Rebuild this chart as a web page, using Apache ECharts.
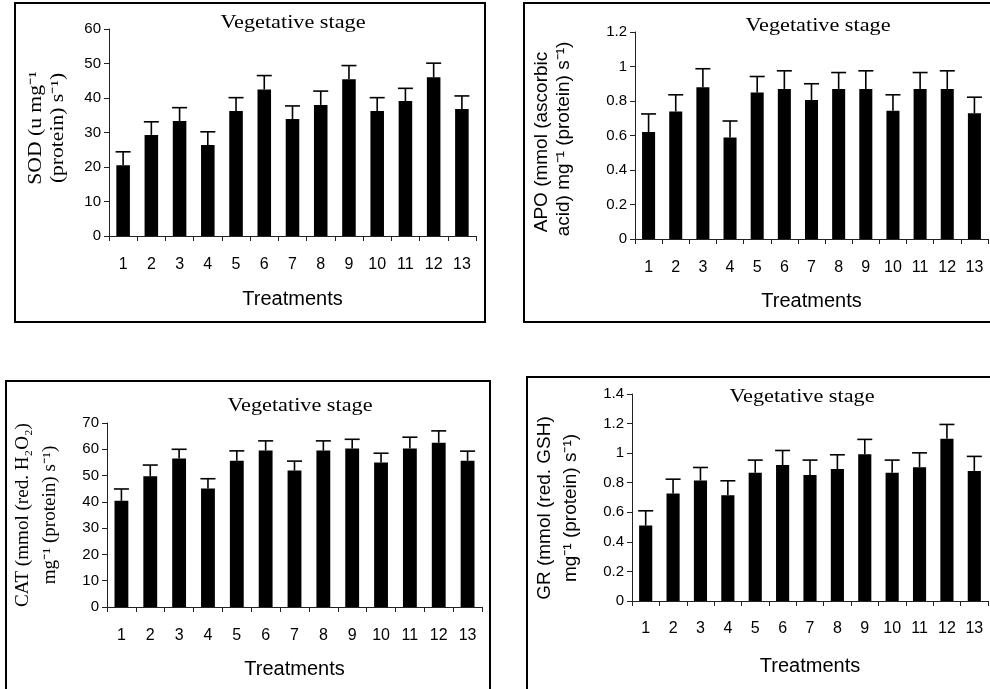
<!DOCTYPE html>
<html><head><meta charset="utf-8">
<script src="https://cdn.jsdelivr.net/npm/echarts@6/dist/echarts.min.js"></script>
<style>html,body{margin:0;padding:0;background:#fff}#c{width:990px;height:689px}</style>
</head><body><div id="c"></div>
<script>
var treatments = ['1','2','3','4','5','6','7','8','9','10','11','12','13'];
var sodMean = [20.5,29.3,33.3,26.4,36.2,42.5,33.9,38.0,45.4,36.2,39.1,46.0,36.8];
var sodErr  = [3.9,3.8,3.9,3.8,3.9,4.0,3.8,4.0,4.0,3.9,3.7,4.1,3.8];
var apoMean = [0.62,0.739,0.88,0.589,0.849,0.87,0.806,0.87,0.87,0.743,0.87,0.87,0.729];
var apoErr  = [0.105,0.097,0.107,0.095,0.093,0.105,0.094,0.095,0.105,0.093,0.095,0.105,0.093];
var catMean = [40.4,49.7,56.5,45.1,55.6,59.5,51.9,59.5,60.3,55.0,60.3,62.5,55.6];
var catErr  = [4.5,4.3,3.5,3.7,3.8,3.7,3.6,3.7,3.5,3.5,4.3,4.5,3.7];
var grMean  = [0.51,0.727,0.815,0.716,0.867,0.919,0.853,0.892,0.993,0.867,0.905,1.097,0.88];
var grErr   = [0.10,0.097,0.088,0.097,0.086,0.099,0.10,0.097,0.10,0.086,0.097,0.097,0.098];
var titleText = 'Vegetative stage';
var xName = 'Treatments';

var SERIF = '"Liberation Serif","Times New Roman",serif';
var SANS = '"Liberation Sans",Arial,sans-serif';

var panels = [
  {grid:{left:109, top:29, width:367, height:207}, max:60, interval:10, mean:sodMean, err:sodErr, lblMargin:21, nameGap:53},
  {grid:{left:635, top:32, width:353, height:207}, max:1.2, interval:0.2, mean:apoMean, err:apoErr, lblMargin:21, nameGap:52},
  {grid:{left:107, top:423, width:375, height:184}, max:70, interval:10, mean:catMean, err:catErr, lblMargin:21, nameGap:52},
  {grid:{left:632, top:394, width:356, height:207}, max:1.4, interval:0.2, mean:grMean, err:grErr, lblMargin:20, nameGap:55}
];

var grids = [], xAxes = [], yAxes = [], series = [];
panels.forEach(function(p, i){
  grids.push(Object.assign({containLabel:false}, p.grid));
  xAxes.push({type:'category', gridIndex:i, data:treatments,
    axisLine:{lineStyle:{color:'#222', width:1}},
    axisTick:{show:true, length:5, lineStyle:{color:'#222'}},
    axisLabel:{color:'#000', fontFamily:SANS, fontSize:16, margin:p.lblMargin},
    name:xName, nameLocation:'middle', nameGap:p.nameGap,
    nameTextStyle:{color:'#000', fontFamily:SANS, fontSize:20}});
  yAxes.push({type:'value', gridIndex:i, min:0, max:p.max, interval:p.interval,
    axisLine:{show:true, lineStyle:{color:'#222', width:1}},
    axisTick:{show:true, length:5, lineStyle:{color:'#222'}},
    splitLine:{show:false},
    axisLabel:{color:'#000', fontFamily:SANS, fontSize:15, margin:8}});
  series.push({type:'bar', xAxisIndex:i, yAxisIndex:i, data:p.mean, barWidth:'48%',
    itemStyle:{color:'#000'}, silent:true});
  series.push({type:'custom', xAxisIndex:i, yAxisIndex:i,
    data:p.mean.map(function(m, k){ return [k, m, m + p.err[k]]; }),
    encode:{x:0, y:[1,2]}, silent:true, z:3,
    renderItem:function(params, api){
      var b = api.coord([api.value(0), api.value(1)]);
      var t = api.coord([api.value(0), api.value(2)]);
      var hw = 7.5;
      return {type:'group', children:[
        {type:'line', shape:{x1:b[0], y1:b[1], x2:t[0], y2:t[1]}, style:{stroke:'#000', lineWidth:1.6}},
        {type:'line', shape:{x1:t[0]-hw, y1:t[1], x2:t[0]+hw, y2:t[1]}, style:{stroke:'#000', lineWidth:1.6}}
      ]};
    }});
});

function frame(x, y, w, h){
  return {type:'rect', shape:{x:x, y:y, width:w, height:h}, style:{fill:null, stroke:'#000', lineWidth:2}, silent:true, z:10};
}
function txt(x, y, s, font, size, rot, sx){
  return {type:'text', x:x, y:y, rotation:rot||0, scaleX:sx||1, silent:true, z:10,
    style:{text:s, fontFamily:font, fontSize:size, fill:'#000', textAlign:'center', textVerticalAlign:'middle'}};
}
var R = Math.PI/2;
var graphics = [
  frame(15, 3, 470, 319),
  frame(524, 3, 480, 319),
  frame(6, 381, 484, 320),
  frame(527, 377, 480, 320),
  txt(293, 23, titleText, SERIF, 19, 0, 1.17),
  txt(818, 26, titleText, SERIF, 19, 0, 1.17),
  txt(300, 406, titleText, SERIF, 19, 0, 1.17),
  txt(802, 397, titleText, SERIF, 19, 0, 1.17),
  txt(36, 128, 'SOD (u mg\u207B\u00B9', SERIF, 18, R, 1.2),
  txt(58, 128, '(protein) s\u207B\u00B9)', SERIF, 18, R, 1.2),
  txt(542, 142, 'APO (mmol (ascorbic', SANS, 19, R),
  txt(564, 139, 'acid) mg\u207B\u00B9 (protein) s\u207B\u00B9)', SANS, 19, R),
  txt(23, 515, 'CAT (mmol (red. H\u2082O\u2082)', SERIF, 18, R, 1.06),
  txt(50, 515, 'mg\u207B\u00B9 (protein) s\u207B\u00B9)', SERIF, 18, R, 1.06),
  txt(545, 508, 'GR (mmol (red. GSH)', SANS, 19, R),
  txt(571, 508, 'mg\u207B\u00B9 (protein) s\u207B\u00B9)', SANS, 19, R)
];

var chart = echarts.init(document.getElementById('c'), null, {renderer:'canvas'});
chart.setOption({animation:false, backgroundColor:'#fff', grid:grids, xAxis:xAxes, yAxis:yAxes, series:series, graphic:graphics});
</script></body></html>
